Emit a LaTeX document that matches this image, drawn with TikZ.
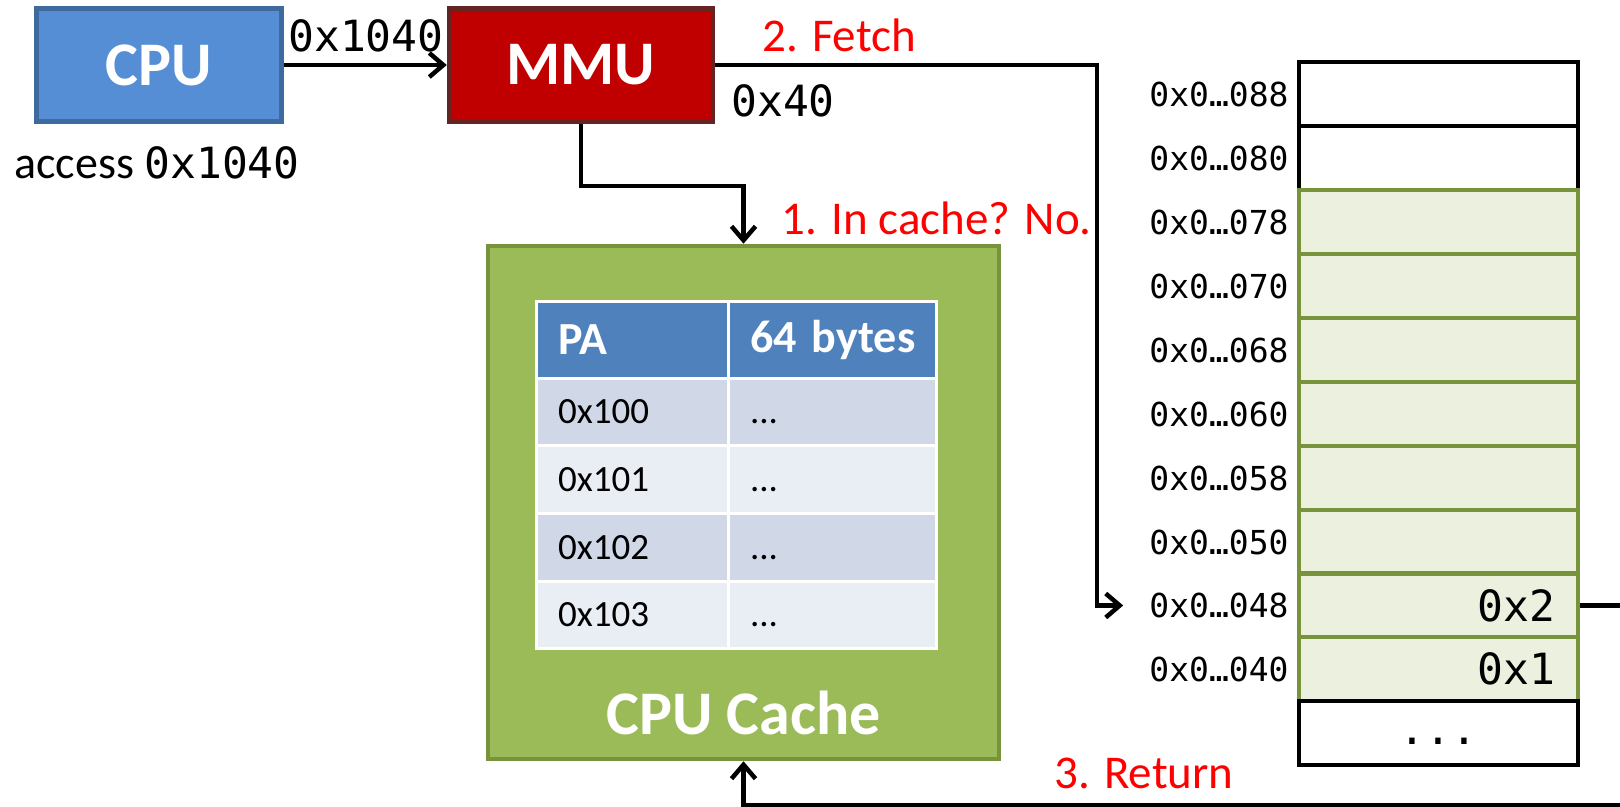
\documentclass[tikz,border=0pt]{standalone}
\usepackage{fontspec}
\setmainfont{Carlito}
\newfontfamily\hexfont{DejaVu Sans Mono}
\usetikzlibrary{arrows.meta,positioning}
\definecolor{cpufill}{HTML}{558ED5}
\definecolor{cpuline}{HTML}{3F6A9E}
\definecolor{mmufill}{HTML}{C00000}
\definecolor{mmuline}{HTML}{632523}
\definecolor{cachefill}{HTML}{9BBB59}
\definecolor{cacheline}{HTML}{77933C}
\definecolor{headfill}{HTML}{4F81BD}
\definecolor{rowdark}{HTML}{D0D8E8}
\definecolor{rowlight}{HTML}{E9EDF4}
\definecolor{memfill}{HTML}{EBF1DE}
\definecolor{memline}{HTML}{77933C}
\tikzstyle{hwbox}=[rectangle,line width=2.25pt,text=white,minimum height=56.5pt,font=\bfseries\fontsize{31}{31}\selectfont]
\tikzstyle{dgraph}=[-{Straight Barb[length=7pt,width=12pt]}, line width=2.25pt]
\tikzstyle{cachebox}=[rectangle,draw=cacheline,fill=cachefill,line width=2.25pt,minimum width=255.5pt,minimum height=256.5pt]
\tikzstyle{tcell}=[rectangle,draw=white,line width=1.5pt,align=left,inner xsep=0pt,inner ysep=0pt,execute at begin node={\hspace*{11pt}}]
\tikzstyle{thead}=[tcell,fill=headfill,minimum height=38pt,text=white,font=\bfseries\fontsize{23}{23}\selectfont]
\tikzstyle{trow}=[tcell,minimum height=33.875pt,font=\fontsize{18.5}{18.5}\selectfont]
\tikzstyle{memw}=[rectangle,draw=black,fill=white,line width=2.25pt,minimum width=139.5pt,minimum height=31.95pt,font=\hexfont\fontsize{21.5}{21.5}\selectfont]
\tikzstyle{memg}=[memw,draw=memline,fill=memfill,text width=116.5pt,align=right,inner xsep=11.5pt]
\tikzstyle{memlbl}=[inner xsep=0pt,font=\hexfont\fontsize{16.5}{16.5}\selectfont]
\tikzstyle{hexlbl}=[font=\hexfont\fontsize{21.5}{21.5}\selectfont]
\tikzstyle{redlbl}=[text=red,font=\fontsize{23.5}{23.5}\selectfont]

\begin{document}
\begin{tikzpicture}[x=0.5pt,y=-0.5pt,dgraph]
\useasboundingbox (0,0) rectangle (1620,807);
% CPU and MMU
\node[hwbox,draw=cpuline,fill=cpufill,minimum width=122.5pt] (CPU) at (159,65) {CPU};
\node[hwbox,draw=mmuline,fill=mmufill,minimum width=132pt] (MMU) at (581,65) {MMU};
\node[hexlbl] (va) at (366,36) {0x1040};
\node[font=\fontsize{23}{23}\selectfont] (access) at (157,163) {access {\hexfont\fontsize{21.5}{21.5}\selectfont 0x1040}};
\node[hexlbl] (off) at (783,101) {0x40};
% cache with its table
\node[cachebox] (cache) at (743.5,502.5) {};
\node[thead,text width=96pt] (hpa) at (632,340) {PA};
\node[thead,text width=104pt] (hbytes) at (832,340) {64 bytes};
\node[trow,fill=rowdark,text width=96pt] (r0) at (632,411.9) {0x100};
\node[trow,fill=rowdark,text width=104pt] (d0) at (832,411.9) {\vphantom{0}...};
\node[trow,fill=rowlight,text width=96pt] (r1) at (632,479.6) {0x101};
\node[trow,fill=rowlight,text width=104pt] (d1) at (832,479.6) {\vphantom{0}...};
\node[trow,fill=rowdark,text width=96pt] (r2) at (632,547.4) {0x102};
\node[trow,fill=rowdark,text width=104pt] (d2) at (832,547.4) {\vphantom{0}...};
\node[trow,fill=rowlight,text width=96pt] (r3) at (632,615.1) {0x103};
\node[trow,fill=rowlight,text width=104pt] (d3) at (832,615.1) {\vphantom{0}...};
\node[text=white,font=\bfseries\fontsize{31}{31}\selectfont] (cachename) at (743.5,713) {CPU Cache};
% memory
\node[memw] (m088) at (1438.5,94) {};
\node[memw] (m080) at (1438.5,158) {};
\node[memg] (m078) at (1438.5,222) {};
\node[memg] (m070) at (1438.5,286) {};
\node[memg] (m068) at (1438.5,350) {};
\node[memg] (m060) at (1438.5,414) {};
\node[memg] (m058) at (1438.5,478) {};
\node[memg] (m050) at (1438.5,542) {};
\node[memg] (m048) at (1438.5,605.5) {0x2};
\node[memg] (m040) at (1438.5,669) {0x1};
\node[memw] (mrest) at (1438.5,733) {\vphantom{x}...};
\node[memlbl,left=3pt of m088] (l088) {0x0…088};
\node[memlbl,left=3pt of m080] (l080) {0x0…080};
\node[memlbl,left=3pt of m078] (l078) {0x0…078};
\node[memlbl,left=3pt of m070] (l070) {0x0…070};
\node[memlbl,left=3pt of m068] (l068) {0x0…068};
\node[memlbl,left=3pt of m060] (l060) {0x0…060};
\node[memlbl,left=3pt of m058] (l058) {0x0…058};
\node[memlbl,left=3pt of m050] (l050) {0x0…050};
\node[memlbl,left=3pt of m048] (l048) {0x0…048};
\node[memlbl,left=3pt of m040] (l040) {0x0…040};
% steps
\node[redlbl,anchor=west] (s1) at (773,218) {1. In cache? No.};
\node[redlbl] (s2) at (839,35) {2. Fetch};
\node[redlbl] (s3) at (1144,773) {3. Return};
\coordinate (bend) at (620,186);
\coordinate (fetch) at (1097,65);
\coordinate (ret) at (1660,805);
\draw (CPU)--(MMU);
\draw (MMU.south) |- (bend) -| (cache.north);
\draw[shorten >=12pt] (MMU.east) -- (fetch) |- (l048.west);
\draw (m048.east) -| (ret) -| (cache.south);
\end{tikzpicture}
\end{document}
